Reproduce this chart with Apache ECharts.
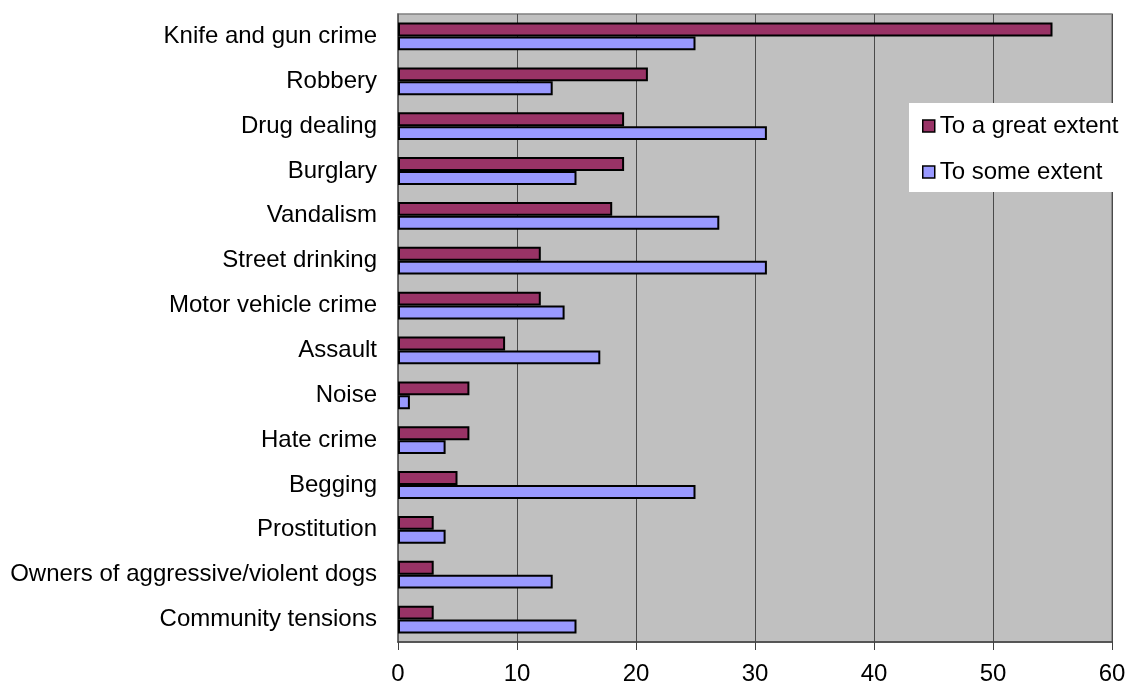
<!DOCTYPE html>
<html><head><meta charset="utf-8">
<script src="https://cdn.jsdelivr.net/npm/echarts@6/dist/echarts.min.js"></script>
<style>html,body{margin:0;padding:0;background:#fff}#c{width:1131px;height:686px}</style>
</head><body><div id="c"></div>
<script>
const categories = ["Knife and gun crime","Robbery","Drug dealing","Burglary","Vandalism","Street drinking","Motor vehicle crime","Assault","Noise","Hate crime","Begging","Prostitution","Owners of aggressive/violent dogs","Community tensions"];
const greatExtent = [55,21,19,19,18,12,12,9,6,6,5,3,3,3];
const someExtent = [25,13,31,15,27,31,14,17,1,4,25,4,13,15];
const seriesNames = ["To a great extent","To some extent"];
const xTicks = {min:0, max:60, interval:10};

const chart = echarts.init(document.getElementById('c'));
const font = 'Liberation Sans, Arial, sans-serif';
chart.setOption({
  animation:false,
  textStyle:{fontFamily:font},
  grid:{left:398,right:19,top:14,bottom:44,show:true,backgroundColor:'#c0c0c0',borderColor:'#808080',borderWidth:1.5},
  legend:{orient:'vertical',left:909,top:103,backgroundColor:'#fff',padding:[11,30,8,13],itemGap:22,itemWidth:12,itemHeight:12,itemTextGap:10,
    icon:'rect',textStyle:{fontSize:24,color:'#000',fontFamily:font},
    data:seriesNames.map(n=>({name:n,itemStyle:{borderColor:'#000',borderWidth:1.5}}))},
  xAxis:{type:'value',min:xTicks.min,max:xTicks.max,interval:xTicks.interval,
    axisLine:{show:true,lineStyle:{color:'#404040',width:1.5}},
    axisTick:{show:true,length:8,lineStyle:{color:'#404040'}},
    axisLabel:{fontSize:24,color:'#000',margin:20,fontFamily:font},
    splitLine:{show:true,lineStyle:{color:'#4a4a4a',width:1}}},
  yAxis:{type:'category',data:categories,inverse:true,
    axisLine:{show:true,lineStyle:{color:'#606060',width:1.5}},
    axisTick:{show:false},
    axisLabel:{fontSize:24,color:'#000',margin:21,fontFamily:font}},
  series:[
    {name:seriesNames[0],type:'bar',data:greatExtent,barGap:'0%',barCategoryGap:'38%',
      itemStyle:{color:'#993366',borderColor:'#000',borderWidth:2}},
    {name:seriesNames[1],type:'bar',data:someExtent,barGap:'0%',barCategoryGap:'38%',
      itemStyle:{color:'#9999ff',borderColor:'#000',borderWidth:2}}
  ]
});
</script></body></html>
